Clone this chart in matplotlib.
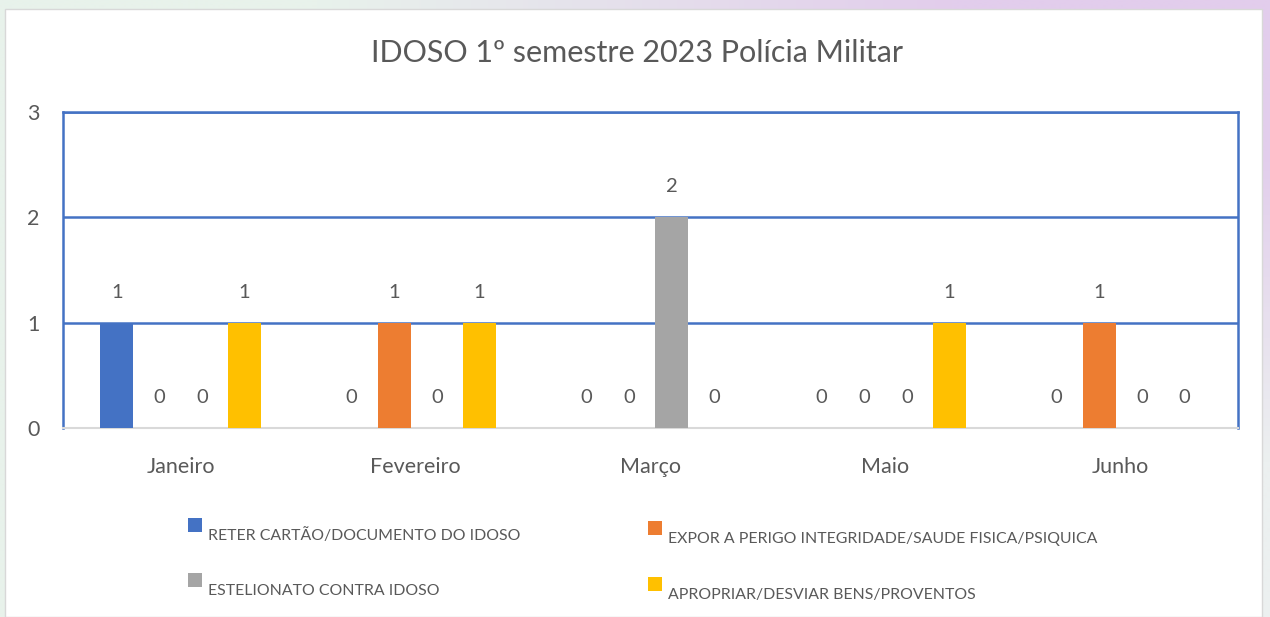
import matplotlib
matplotlib.use("Agg")
import matplotlib.pyplot as plt
import numpy as np
from matplotlib.patches import Rectangle

months = ["Janeiro", "Fevereiro", "Março", "Maio", "Junho"]
series_names = ["RETER CARTÃO/DOCUMENTO DO IDOSO",
                "EXPOR A PERIGO INTEGRIDADE/SAUDE FISICA/PSIQUICA",
                "ESTELIONATO CONTRA IDOSO",
                "APROPRIAR/DESVIAR BENS/PROVENTOS"]
reter = [1, 0, 0, 0, 0]
expor = [0, 1, 0, 0, 1]
estelionato = [0, 0, 2, 0, 0]
apropriar = [1, 1, 0, 1, 0]
colors = ["#4472C4", "#ED7D31", "#A5A5A5", "#FFC000"]
title = "IDOSO 1º semestre 2023 Polícia Militar"

plt.rcParams['font.family'] = ['Lato', 'DejaVu Sans']
txt = "#595959"

W, H = 1270, 617
fig = plt.figure(figsize=(W/100, H/100), dpi=100)

# background gradient
bg = fig.add_axes([0, 0, 1, 1], zorder=-10)
bg.set_axis_off()
grad = np.zeros((2, 2, 3))
grad[:, 0] = np.array([232, 242, 235]) / 255
grad[:, 1] = np.array([226, 205, 236]) / 255
grad[1, 0] = np.array([232, 242, 235]) / 255
grad[1, 1] = np.array([236, 240, 240]) / 255
bg.imshow(grad, extent=[0, 1, 0, 1], aspect='auto', interpolation='bilinear')
bg.set_xlim(0, 1); bg.set_ylim(0, 1)
bg.add_patch(Rectangle((5/W, 0), (1262-5)/W, (H-9)/H, facecolor="white",
                       edgecolor="#d8d8d8", lw=1, transform=bg.transAxes))

ax = fig.add_axes([63/W, 1-428/H, (1238-63)/W, (428-112)/H])
ax.set_facecolor("none")
x = np.arange(len(months))
data = [reter, expor, estelionato, apropriar]
bw = 0.14
step = 0.181
for i, (vals, c, name) in enumerate(zip(data, colors, series_names)):
    pos = x + (i - 1.5) * step
    bars = ax.bar(pos, vals, width=bw, color=c, label=name, zorder=3)
    for p, v in zip(pos, vals):
        ax.annotate(str(v), (p, v), xytext=(0, 22), textcoords="offset points",
                    ha="center", va="center", fontsize=14.5, color=txt)

ax.set_xlim(-0.5, len(months) - 0.5)
ax.set_ylim(0, 3)
ax.set_yticks([0, 1, 2, 3])
ax.set_yticklabels(["0", "1", "2", "3"], fontsize=15.5, color=txt)
ax.set_xticks(x)
ax.set_xticklabels(months, fontsize=15.5, color=txt)
ax.tick_params(axis='both', length=0)
ax.tick_params(axis='y', pad=17)
ax.tick_params(axis='x', pad=21)
ax.yaxis.grid(True, color="#4472C4", lw=1.8, zorder=1)
for s in ["left", "right", "top"]:
    ax.spines[s].set_color("#4472C4")
    ax.spines[s].set_linewidth(1.8)
ax.spines["bottom"].set_color("#d9d9d9")
ax.spines["bottom"].set_linewidth(1.5)

fig.text(637/W, 1-53/H, title, ha="center", va="center", fontsize=22, color=txt)

# legend
leg_pos = [(188, 518), (648, 521), (188, 573), (648, 577)]
for (lx, ly), c, name in zip(leg_pos, colors, series_names):
    fig.patches.append(Rectangle((lx/W, 1-(ly+14)/H), 14/W, 14/H, facecolor=c,
                                 edgecolor="none", transform=fig.transFigure))
    fig.text((lx+20)/W, 1-(ly+18)/H, name, ha="left", va="center", fontsize=11.4,
             color=txt)

fig.savefig("out.png", dpi=100)
